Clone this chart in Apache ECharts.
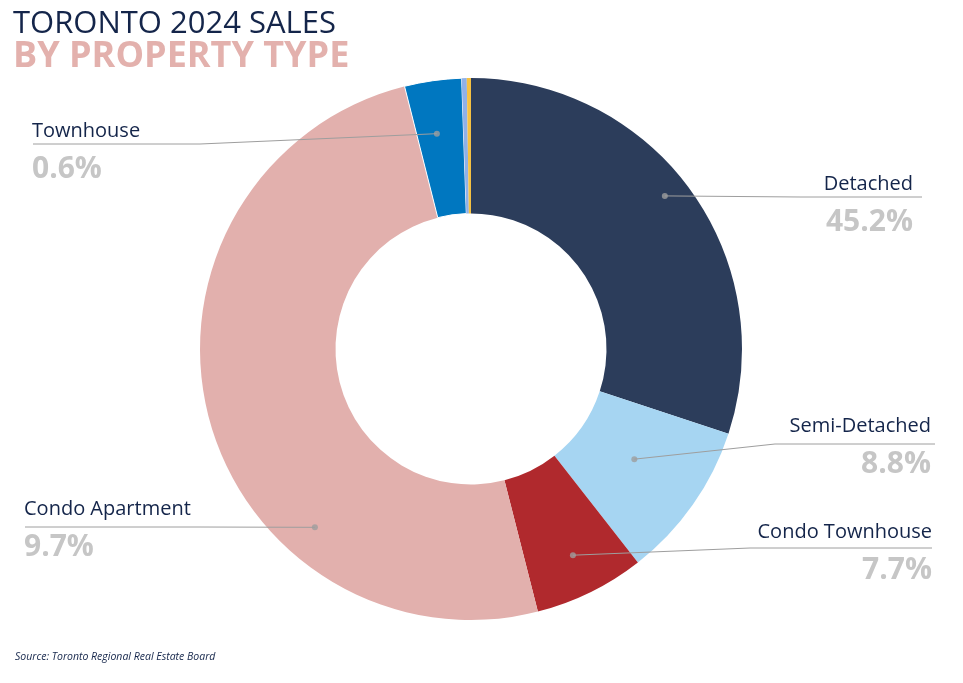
<!DOCTYPE html>
<html>
<head>
<meta charset="utf-8">
<script src="https://cdn.jsdelivr.net/npm/echarts@6/dist/echarts.min.js"></script>
<style>html,body{margin:0;padding:0;background:#fff;}#chart{width:963px;height:683px;}</style>
</head>
<body>
<div id="chart"></div>
<script>
// ---- data ----
const categories = ['Detached', 'Semi-Detached', 'Condo Townhouse', 'Condo Apartment', 'Townhouse', 'Co-op Apartment', 'Link'];
const shares = [30.1, 9.4, 6.6, 50.1, 3.4, 0.3, 0.25];
const labelPercents = ['45.2%', '8.8%', '7.7%', '9.7%', '0.6%', '', ''];
const dotAngles = [51.7, 124.0, 153.7, 221.2, 351.0];
const dotRadii = [247, 197, 230, 237, 218];

// ---- layout / style ----
const CX = 471, CY = 349, R_OUT = 271, R_IN = 135.5;
const colors = ['#2c3d5b', '#a6d5f2', '#b0292d', '#e2b0ad', '#0077c0', '#8fb1e9', '#f5c143'];
const labelPos = [
  {x: 913, y: 169.5, align: 'right', bend: [800, 197], end: [922, 197]},
  {x: 931, y: 411.5, align: 'right', bend: [775, 444], end: [935, 444]},
  {x: 932, y: 517.5, align: 'right', bend: [750, 548], end: [932, 548]},
  {x: 24, y: 494.5, align: 'left', bend: [200, 527], end: [25, 527]},
  {x: 32, y: 116.5, align: 'left', bend: [200, 144], end: [33, 144]}
];
const NAVY = '#14254a';
const FONT = '"Open Sans", sans-serif';

const pieData = categories.map((c, i) => {
  const item = {name: c, value: shares[i], itemStyle: {color: colors[i]}};
  if (i === 4) { item.itemStyle.borderColor = '#fff'; item.itemStyle.borderWidth = 1; }
  return item;
});
const labelData = categories.map((c, i) => {
  const item = {name: c, value: shares[i]};
  if (!labelPercents[i]) { item.label = {show: false}; item.labelLine = {show: false}; }
  return item;
});

const dotData = dotAngles.map((a, i) => [dotRadii[i], a]);

const chart = echarts.init(document.getElementById('chart'), null, {renderer: 'canvas'});
chart.setOption({
  animation: false,
  backgroundColor: '#fff',
  title: [
    {text: 'TORONTO 2024 SALES', left: 8, top: 4,
     textStyle: {fontFamily: FONT, fontSize: 31, fontWeight: 'normal', color: NAVY}},
    {text: 'BY PROPERTY TYPE', left: 8, top: 34,
     textStyle: {fontFamily: FONT, fontSize: 36, fontWeight: 'bold', color: '#e3b1ad'}},
    {text: 'Source: Toronto Regional Real Estate Board', left: 10, top: 647,
     textStyle: {fontFamily: FONT, fontSize: 10.5, fontStyle: 'italic', fontWeight: 'normal', color: NAVY}}
  ],
  polar: {center: [CX, CY], radius: R_OUT},
  angleAxis: {type: 'value', min: 0, max: 360, startAngle: 90, clockwise: true, show: false},
  radiusAxis: {type: 'value', min: 0, max: R_OUT, show: false},
  series: [
    {
      type: 'pie',
      center: [CX, CY],
      radius: [R_IN, R_OUT],
      startAngle: 90,
      clockwise: true,
      data: pieData,
      label: {show: false},
      labelLine: {show: false},
      emphasis: {disabled: true},
      silent: true,
      z: 2
    },
    {
      type: 'pie',
      center: [CX, CY],
      radius: [R_IN, R_OUT],
      startAngle: 90,
      clockwise: true,
      avoidLabelOverlap: false,
      data: labelData,
      silent: true,
      emphasis: {disabled: true},
      itemStyle: {color: 'rgba(0,0,0,0)'},
      label: {
        show: true,
        position: 'outside',
        formatter: p => '{n|' + p.name + '}\n{p|' + labelPercents[p.dataIndex] + '}',
        rich: {
          n: {fontFamily: FONT, fontSize: 20, color: NAVY, lineHeight: 30},
          p: {fontFamily: FONT, fontSize: 30, fontWeight: 'bold', color: '#c6c6c6', lineHeight: 46}
        }
      },
      labelLine: {show: true, showAbove: true, lineStyle: {color: '#9e9e9e', width: 1}},
      labelLayout: function (params) {
        const cfg = labelPos[params.dataIndex];
        if (!cfg) return {};
        const a = dotAngles[params.dataIndex] * Math.PI / 180;
        const r = dotRadii[params.dataIndex];
        const dx = CX + r * Math.sin(a), dy = CY - r * Math.cos(a);
        return {
          x: cfg.x, y: cfg.y, align: cfg.align, verticalAlign: 'top',
          labelLinePoints: [[dx, dy], cfg.bend, cfg.end]
        };
      },
      z: 4
    },
    {
      type: 'scatter',
      coordinateSystem: 'polar',
      data: dotData,
      symbol: 'circle',
      symbolSize: 6,
      itemStyle: {color: '#9e9e9e'},
      silent: true,
      z: 5
    }
  ]
});
</script>
</body>
</html>
